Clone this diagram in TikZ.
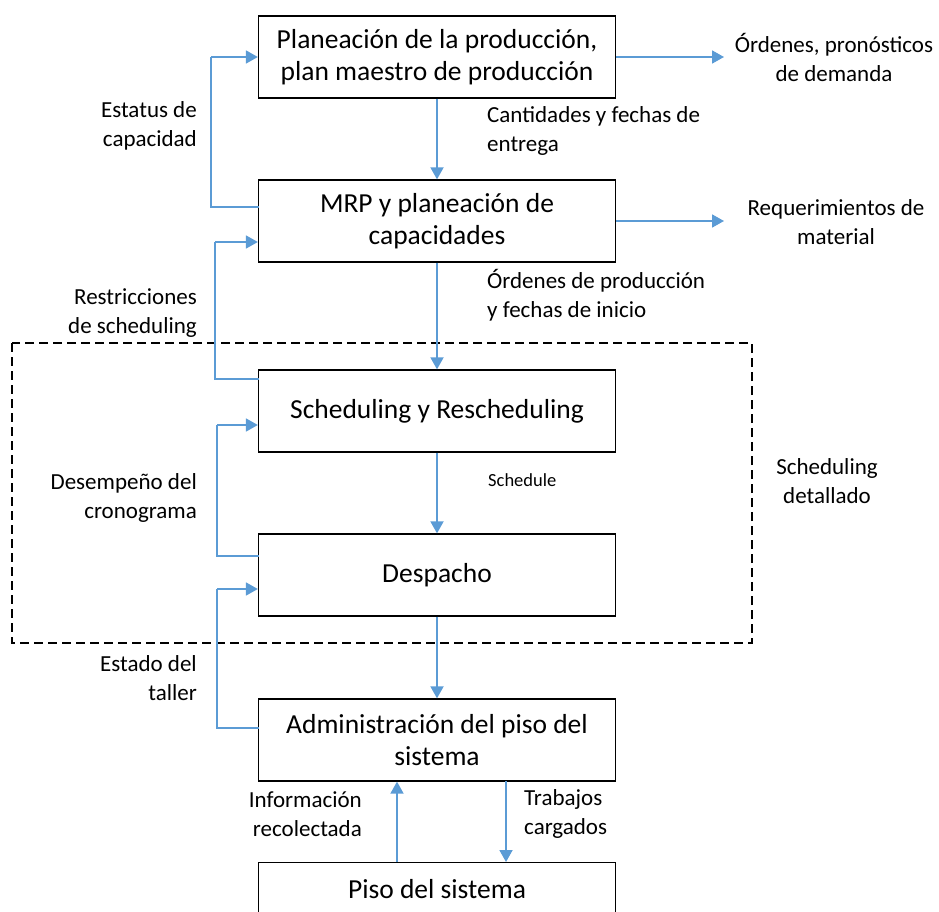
\documentclass[tikz,border=0pt]{standalone}
\usepackage{fontspec}
\setmainfont{Carlito}
\usetikzlibrary{arrows.meta}
\definecolor{arrowblue}{HTML}{5B9BD5}
\begin{document}
\begin{tikzpicture}[x=1pt,y=-1pt,
  box/.style={draw=black,line width=1.3pt,minimum width=357pt,minimum height=82pt,inner sep=0pt,align=center,font=\fontsize{27.5}{32}\selectfont},
  flow/.style={draw=arrowblue,line width=1.8pt,-{Triangle[length=12pt,width=13pt]}},
  line/.style={draw=arrowblue,line width=1.8pt},
  lbl/.style={font=\fontsize{23}{29}\selectfont,inner sep=0pt}]
\useasboundingbox (0,0) rectangle (939,912);
\clip (0,0) rectangle (939,912);
\node[box] (b1) at (437,57) {Planeación de la producción,\\plan maestro de producción};
\node[box] (b2) at (437,221) {MRP y planeación de\\capacidades};
\node[box] (b3) at (437,411) {Scheduling y Rescheduling};
\node[box] (b4) at (437,575) {Despacho};
\node[box] (b5) at (437,740) {Administración del piso del\\sistema};
\node[box,anchor=north] (b6) at (437,862) {};
\node[font=\fontsize{27.5}{32}\selectfont,inner sep=0pt] (b6t) at (437,889) {Piso del sistema};
\draw[dashed,line width=1.2pt,dash pattern=on 9pt off 5pt] (12,343) rectangle (752,643);
% outputs right
\coordinate (o1) at (724,57);
\coordinate (o2) at (724,221);
\draw[flow] (b1.east) -- (o1);
\draw[flow] (b2.east|-o2) -- (o2);
\node[lbl,align=center] (t1) at (834,57) {Órdenes, pronósticos\\de demanda};
\node[lbl,align=center] (t2) at (836,222) {Requerimientos de\\material};
% downward
\draw[flow] (b1.south) -- (b2.north);
\draw[flow] (b2.south) -- (b3.north);
\draw[flow] (b3.south) -- (b4.north);
\draw[flow] (b4.south) -- (b5.north);
\coordinate (up1) at (397,862);
\coordinate (dn1) at (506,781);
\draw[flow] (up1) -- (up1|-b5.south);
\draw[flow] (dn1) -- (dn1|-b6.north);
\node[lbl,anchor=west,align=left] (l1) at (487,131) {Cantidades y fechas de\\entrega};
\node[lbl,anchor=west,align=left] (l2) at (487,295) {Órdenes de producción\\y fechas de inicio};
\node[font=\fontsize{18.5}{22}\selectfont,inner sep=0pt,anchor=west] (l3) at (488,480) {Schedule};
\node[lbl,align=center] (l4) at (827,481) {Scheduling\\detallado};
\node[lbl,anchor=east,align=right] (l5) at (362,814) {Información\\recolectada};
\node[lbl,anchor=west,align=left] (l6) at (524,814) {Trabajos\\cargados};
% feedback loops
\coordinate (f1a) at (259,207); \coordinate (f1b) at (211,207); \coordinate (f1c) at (211,57);
\draw[line] (f1a) -- (f1b) -- (f1c);
\draw[flow] (f1c) -- (b1.west);
\coordinate (f2a) at (259,379); \coordinate (f2b) at (215,379); \coordinate (f2c) at (215,242);
\draw[line] (f2a) -- (f2b) -- (f2c);
\draw[flow] (f2c) -- (f2c-|b2.west);
\coordinate (f3a) at (259,556); \coordinate (f3b) at (217,556); \coordinate (f3c) at (217,425);
\draw[line] (f3a) -- (f3b) -- (f3c);
\draw[flow] (f3c) -- (f3c-|b3.west);
\coordinate (f4a) at (259,728); \coordinate (f4b) at (217,728); \coordinate (f4c) at (217,589);
\draw[line] (f4a) -- (f4b) -- (f4c);
\draw[flow] (f4c) -- (f4c-|b4.west);
\node[lbl,anchor=east,align=right] (k1) at (197,126) {Estatus de\\capacidad};
\node[lbl,anchor=east,align=right] (k2) at (197,313) {Restricciones\\de scheduling};
\node[lbl,anchor=east,align=right] (k3) at (197,498) {Desempeño del\\cronograma};
\node[lbl,anchor=east,align=right] (k4) at (197,678) {Estado del\\taller};
\end{tikzpicture}
\end{document}
